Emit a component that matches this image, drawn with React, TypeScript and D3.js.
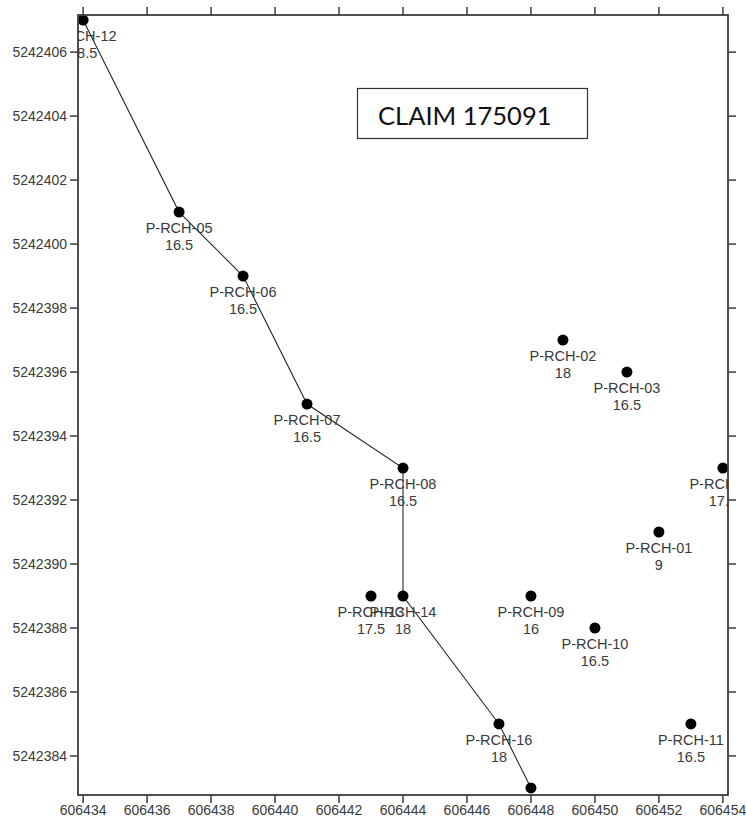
import React from "react";
import * as d3 from "d3";

// Drill hole collars: id, easting, northing, value
const holeIds = [
  "P-RCH-12", "P-RCH-05", "P-RCH-06", "P-RCH-07", "P-RCH-08", "P-RCH-13",
  "P-RCH-14", "P-RCH-16", "P-RCH-15", "P-RCH-02", "P-RCH-03", "P-RCH-04",
  "P-RCH-01", "P-RCH-09", "P-RCH-10", "P-RCH-11",
];
const eastings = [
  606434, 606437, 606439, 606441, 606444, 606443,
  606444, 606447, 606448, 606449, 606451, 606454,
  606452, 606448, 606450, 606453,
];
const northings = [
  5242407, 5242401, 5242399, 5242395, 5242393, 5242389,
  5242389, 5242385, 5242383, 5242397, 5242396, 5242393,
  5242391, 5242389, 5242388, 5242385,
];
const values = [
  "18.5", "16.5", "16.5", "16.5", "16.5", "17.5",
  "18", "18", "16.5", "18", "16.5", "17.5",
  "9", "16", "16.5", "16.5",
];

// Holes joined by the traverse line, in order
const traverse = [
  "P-RCH-12", "P-RCH-05", "P-RCH-06", "P-RCH-07",
  "P-RCH-08", "P-RCH-14", "P-RCH-16", "P-RCH-15",
];

const xTicks = [606434, 606436, 606438, 606440, 606442, 606444, 606446, 606448, 606450, 606452, 606454];
const yTicks = [5242384, 5242386, 5242388, 5242390, 5242392, 5242394, 5242396, 5242398, 5242400, 5242402, 5242404, 5242406];

const claimLabel = "CLAIM 175091";

const W = 746;
const H = 821;
const left = 78;
const right = 728;
const top = 15;
const bottom = 795;

export default function App() {
  const x = d3.scaleLinear().domain([606433.84, 606454.16]).range([left, right]);
  const y = d3.scaleLinear().domain([5242382.78, 5242407.16]).range([bottom, top]);

  const holes = holeIds.map((id, i) => ({
    id,
    e: eastings[i],
    n: northings[i],
    v: values[i],
  }));
  const byId = new Map(holes.map((h) => [h.id, h]));
  const lineGen = d3
    .line<{ e: number; n: number }>()
    .x((d) => x(d.e))
    .y((d) => y(d.n));
  const path = lineGen(traverse.map((id) => byId.get(id)!)) || "";

  const tickFont = { fontFamily: "'Liberation Sans', Arial, sans-serif", fontSize: 14, fill: "#3a3a3a" };
  const axisColor = "#3c3c3c";
  const tickLen = 8;

  return (
    <svg
      width={W}
      height={H}
      style={{ position: "absolute", left: 0, top: 0, background: "#fff" }}
    >
      <defs>
        <clipPath id="plot-area">
          <rect x={left} y={top} width={right - left} height={bottom - top} />
        </clipPath>
      </defs>
      <rect x={0} y={0} width={W} height={H} fill="#fff" />

      {/* Ticks on all four sides; labels on bottom and left */}
      {xTicks.map((t) => (
        <g key={"xt" + t}>
          <line x1={x(t)} x2={x(t)} y1={bottom} y2={bottom + tickLen} stroke={axisColor} strokeWidth={1.5} />
          <line x1={x(t)} x2={x(t)} y1={top} y2={top - tickLen} stroke={axisColor} strokeWidth={1.5} />
          <text x={x(t)} y={bottom + 20} textAnchor="middle" {...tickFont}>
            {t}
          </text>
        </g>
      ))}
      {yTicks.map((t) => (
        <g key={"yt" + t}>
          <line x1={left - tickLen} x2={left} y1={y(t)} y2={y(t)} stroke={axisColor} strokeWidth={1.5} />
          <line x1={right} x2={right + tickLen} y1={y(t)} y2={y(t)} stroke={axisColor} strokeWidth={1.5} />
          <text x={left - 11} y={y(t) + 5} textAnchor="end" {...tickFont}>
            {t}
          </text>
        </g>
      ))}

      <g clipPath="url(#plot-area)">
        <path d={path} fill="none" stroke="#2a2a2a" strokeWidth={1.1} />
        {holes.map((h) => (
          <g key={h.id}>
            <circle cx={x(h.e)} cy={y(h.n)} r={5.5} fill="#000" />
            <text
              x={x(h.e)}
              y={y(h.n) + 21}
              textAnchor="middle"
              fontFamily="'Liberation Sans', Arial, sans-serif"
              fontSize={14.5}
              fill="#3a3a3a"
            >
              {h.id}
            </text>
            <text
              x={x(h.e)}
              y={y(h.n) + 38}
              textAnchor="middle"
              fontFamily="'Liberation Sans', Arial, sans-serif"
              fontSize={14.5}
              fill="#3a3a3a"
            >
              {h.v}
            </text>
          </g>
        ))}
      </g>

      {/* Plot frame */}
      <rect
        x={left}
        y={top}
        width={right - left}
        height={bottom - top}
        fill="none"
        stroke={axisColor}
        strokeWidth={1.8}
      />

      {/* Claim label */}
      <rect x={357.5} y={88.5} width={230} height={50} fill="#fff" stroke="#333" strokeWidth={1.2} />
      <text x={378} y={125} fontFamily="Lato, 'Open Sans', sans-serif" fontSize={25.5} fill="#111">
        {claimLabel}
      </text>
    </svg>
  );
}
